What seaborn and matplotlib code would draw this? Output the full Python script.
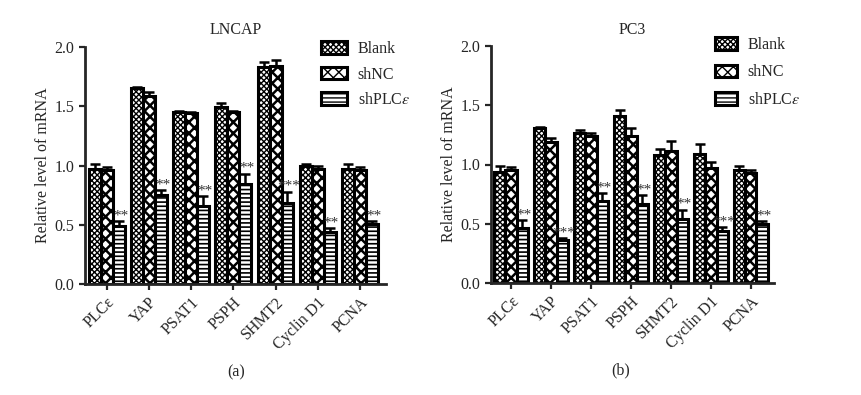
import numpy as np
import pandas as pd
import seaborn as sns
import matplotlib.pyplot as plt
import matplotlib.patches as mpatches

genes = ["PLCε", "YAP", "PSAT1", "PSPH", "SHMT2", "Cyclin D1", "PCNA"]
groups = ["Blank", "shNC", "shPLCε"]

# LNCAP
lncap_blank = [0.97, 1.65, 1.45, 1.49, 1.83, 1.00, 0.97]
lncap_blank_err = [0.04, 0.01, 0.01, 0.04, 0.04, 0.01, 0.04]
lncap_shnc = [0.96, 1.59, 1.44, 1.45, 1.84, 0.97, 0.96]
lncap_shnc_err = [0.03, 0.03, 0.01, 0.01, 0.05, 0.03, 0.03]
lncap_shplc = [0.49, 0.75, 0.66, 0.84, 0.68, 0.44, 0.51]
lncap_shplc_err = [0.04, 0.04, 0.08, 0.09, 0.10, 0.03, 0.02]
lncap_stars = ["**", "**", "**", "**", "***", "**", "**"]

# PC3
pc3_blank = [0.94, 1.31, 1.27, 1.41, 1.08, 1.09, 0.95]
pc3_blank_err = [0.05, 0.01, 0.02, 0.05, 0.05, 0.08, 0.04]
pc3_shnc = [0.95, 1.19, 1.24, 1.24, 1.11, 0.97, 0.93]
pc3_shnc_err = [0.03, 0.03, 0.03, 0.07, 0.09, 0.05, 0.02]
pc3_shplc = [0.46, 0.36, 0.69, 0.67, 0.54, 0.44, 0.50]
pc3_shplc_err = [0.07, 0.02, 0.07, 0.07, 0.08, 0.03, 0.02]
pc3_stars = ["**", "***", "**", "**", "**", "***", "**"]

hatches = ["xxxxxx", "xxx", "----"]
hatch_lw = [1.0, 1.8, 1.2]

sns.set_style("ticks")
plt.rcParams["font.family"] = ["Liberation Serif", "DejaVu Serif"]
plt.rcParams["mathtext.fontset"] = "stix"
plt.rcParams["hatch.linewidth"] = 1.0
plt.rcParams["hatch.color"] = "black"


def set_hatch(p, k):
    p.set_hatch(hatches[k])
    try:
        p.set_hatch_linewidth(hatch_lw[k])
    except AttributeError:
        pass


def make_df(vals, errs):
    rows = []
    for g, v, e in zip(groups, vals, errs):
        for gene, vi, ei in zip(genes, v, e):
            rows.append([gene, g, vi, ei])
    return pd.DataFrame(rows, columns=["gene", "group", "value", "err"])


def draw(ax, df, stars, title, xlim):
    sns.barplot(data=df, x="gene", y="value", hue="group", order=genes,
                hue_order=groups, palette=["white"] * 3, width=0.85, gap=0,
                errorbar=None, edgecolor="black", linewidth=2.2,
                legend=False, ax=ax)
    bar_sets = list(ax.containers)
    for k, cont in enumerate(bar_sets):
        sub = df[df["group"] == groups[k]]
        for bar, err in zip(cont, sub["err"]):
            set_hatch(bar, k)
            cx = bar.get_x() + bar.get_width() / 2
            ax.errorbar(cx, bar.get_height(), yerr=[[0], [err]], fmt="none",
                        ecolor="black", elinewidth=1.8, capsize=3.5,
                        capthick=1.8, zorder=1)
        if k == 2:
            for bar, err, s in zip(cont, sub["err"], stars):
                cx = bar.get_x() + bar.get_width() / 2
                ax.text(cx + 0.04, bar.get_height() + err - 0.01, s,
                        ha="center", va="bottom", fontsize=11,
                        color="#333333", zorder=5)
    ax.set_ylim(0, 2.0)
    ax.set_xlim(*xlim)
    ax.set_yticks([0, 0.5, 1.0, 1.5, 2.0])
    ax.set_yticklabels(["0.0", "0.5", "1.0", "1.5", "2.0"], fontsize=11.5)
    ax.set_xticks(range(len(genes)))
    ax.set_xticklabels(genes, rotation=45, ha="right",
                       rotation_mode="anchor", fontsize=11.5)
    ax.set_xlabel("")
    ax.set_ylabel("Relative level of mRNA", fontsize=11.5, labelpad=3)
    ax.set_title(title, fontsize=11.5, pad=9)
    sns.despine(ax=ax)
    for sp in ["left", "bottom"]:
        ax.spines[sp].set_linewidth(2.0)
    ax.tick_params(axis="both", width=1.6, length=4, direction="out")


fig = plt.figure(figsize=(8.62, 3.95), dpi=100)
ax1 = fig.add_axes([85 / 862, 1 - 284 / 395, 301 / 862, 237 / 395])
ax2 = fig.add_axes([491 / 862, 1 - 283 / 395, 283 / 862, 237 / 395])

draw(ax1, make_df([lncap_blank, lncap_shnc, lncap_shplc],
                  [lncap_blank_err, lncap_shnc_err, lncap_shplc_err]),
     lncap_stars, "LNCAP", (-0.52, 6.62))
draw(ax2, make_df([pc3_blank, pc3_shnc, pc3_shplc],
                  [pc3_blank_err, pc3_shnc_err, pc3_shplc_err]),
     pc3_stars, "PC3", (-0.5, 6.58))

labels = ["Blank", "shNC", "shPLC$\\varepsilon$"]
for ax, x0, y0, hl, ls in [(ax1, 321, 41, 1.6, 0.6), (ax2, 715, 37, 1.35, 0.72)]:
    handles = []
    for k in range(3):
        p = mpatches.Patch(facecolor="white", edgecolor="black", linewidth=2.2)
        set_hatch(p, k)
        handles.append(p)
    ax.legend(handles, labels, loc="upper left",
              bbox_to_anchor=(x0 / 862, 1 - y0 / 395),
              bbox_transform=fig.transFigure, frameon=False, fontsize=11.5,
              handlelength=hl, handleheight=0.85, labelspacing=ls,
              handletextpad=0.7, borderaxespad=0, borderpad=0)

fig.text(236 / 862, 1 - 372 / 395, "(a)", ha="center", va="center", fontsize=11.5)
fig.text(621 / 862, 1 - 370 / 395, "(b)", ha="center", va="center", fontsize=11.5)

fig.savefig("out.png", dpi=100)
